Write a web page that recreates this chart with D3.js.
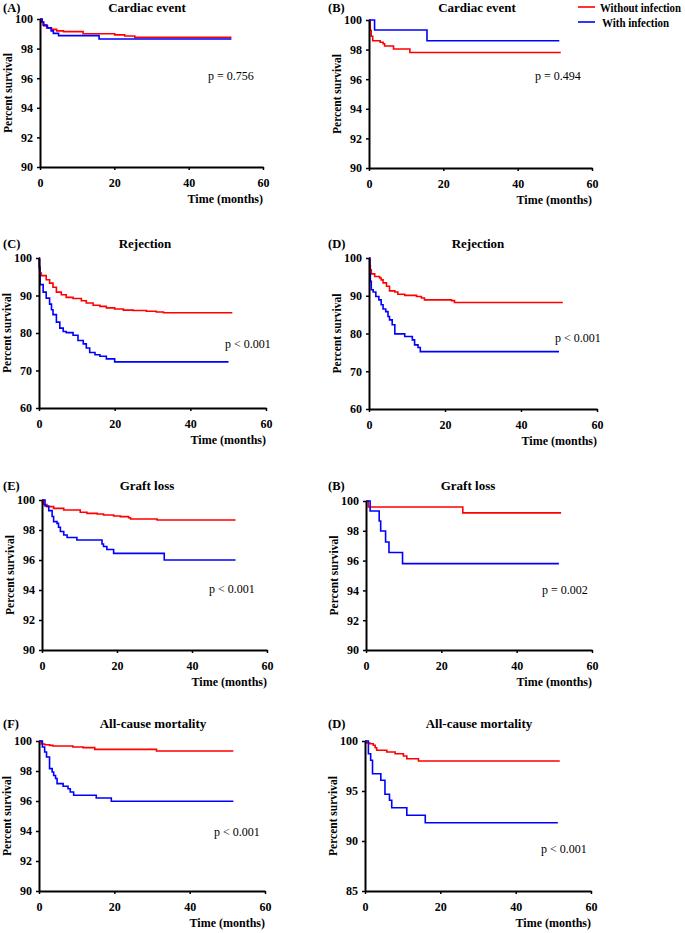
<!DOCTYPE html>
<html>
<head>
<meta charset="utf-8">
<script src="https://cdn.jsdelivr.net/npm/d3@7"></script>
<style>
  html, body { margin: 0; padding: 0; background: #fff; }
  svg { display: block; font-family: "Liberation Serif", "Times New Roman", serif; }
</style>
</head>
<body>
<svg id="chart" width="685" height="933"></svg>
<script>
// ---------- DATA (time in months, percent survival) ----------
const seriesNames = ["Without infection", "With infection"];
const xTicks = [0, 20, 40, 60];

// (A) Cardiac event
const cardiacA_without = [[0,100],[0.3,99.8],[0.8,99.6],[1.8,99.4],[3.1,99.3],[4.5,99.2],[6.3,99.15],[11.6,99.0],[20.1,98.93],[22.8,98.85],[25.5,98.76],[51.5,98.76]];
const cardiacA_with    = [[0,100],[0.6,99.8],[1.0,99.55],[2.0,99.4],[3.0,99.2],[3.6,99.03],[5.0,98.88],[15.9,98.65],[51.5,98.65]];
// (B) Cardiac event
const cardiacB_without = [[0,100],[0.3,99.3],[0.6,98.9],[1.0,98.6],[3.0,98.5],[3.8,98.4],[4.2,98.24],[6.6,98.04],[11.0,97.8],[51.6,97.8]];
const cardiacB_with    = [[0,100],[1.5,99.32],[15.6,98.6],[51.2,98.6]];
// (C) Rejection
const rejectC_without = [[0,100],[0.1,97.5],[0.3,96],[0.6,95.3],[1.9,94.2],[2.8,93.3],[3.7,92.2],[4.6,90.9],[5.9,90.2],[7.2,89.5],[9.0,89.2],[11.2,88.6],[12.5,88.0],[14.3,87.4],[16.1,87.1],[17.8,86.7],[20.0,86.4],[22.3,86.1],[24.9,86.0],[28.4,85.8],[31.0,85.6],[32.9,85.4],[51.1,85.4]];
const rejectC_with    = [[0,100],[0.1,97.5],[0.2,95.6],[0.3,92.9],[1.1,90.9],[1.9,89.3],[2.8,87.7],[3.3,86.2],[3.7,84.9],[4.6,82.9],[5.5,81.3],[6.4,80.4],[7.2,80.1],[9.0,79.4],[10.3,78.0],[11.7,77.1],[12.5,76.0],[13.4,74.8],[14.8,74.2],[16.1,73.8],[17.8,73.1],[20.0,72.3],[50.1,72.3]];
// (D) Rejection
const rejectD_without = [[0,100],[0.2,98],[0.35,96.9],[0.6,95.8],[1.5,95.1],[2.8,94.7],[3.2,94.2],[3.7,93.4],[4.6,92.5],[5.4,91.3],[6.8,91.0],[7.6,90.4],[9.4,90.1],[12.5,89.8],[13.8,89.4],[14.6,88.9],[21.7,88.7],[22.5,88.2],[51.0,88.2]];
const rejectD_with    = [[0,100],[0.2,96],[0.35,93.8],[0.6,91.6],[1.1,91.0],[1.8,89.8],[2.6,88.9],[3.2,87.6],[3.7,86.5],[4.4,85.8],[5.0,84.5],[5.4,83.6],[6.1,82.3],[6.8,79.9],[9.4,79.2],[11.4,78.3],[12.0,77.0],[12.9,76.3],[13.5,75.2],[50.0,75.2]];
// (E) Graft loss
const graftE_without = [[0,100],[0.4,99.7],[1.3,99.56],[3.1,99.44],[5.8,99.33],[10.2,99.18],[12.0,99.11],[14.7,99.07],[16.4,99.0],[19.1,98.93],[20.9,98.89],[23.1,98.82],[23.6,98.73],[30.7,98.67],[51.6,98.67]];
const graftE_with    = [[0,100],[0.8,99.6],[1.8,99.29],[2.7,98.9],[3.1,98.56],[4.0,98.44],[4.4,98.18],[4.9,97.9],[5.8,97.67],[6.7,97.5],[9.3,97.33],[16.0,97.07],[16.4,96.9],[17.3,96.7],[19.1,96.44],[32.6,96.0],[51.6,96.0]];
// (B) Graft loss
const graftB_without = [[0,100],[0.6,99.6],[25.7,99.2],[51.8,99.2]];
const graftB_with    = [[0,100],[1.1,99.33],[3.5,98.66],[3.9,97.99],[5.2,97.25],[6.1,96.54],[9.7,95.8],[51.2,95.8]];
// (F) All-cause mortality
const mortF_without = [[0,100],[0.6,99.8],[1.5,99.75],[2.8,99.71],[3.7,99.67],[9.0,99.6],[11.7,99.56],[14.8,99.44],[31.2,99.33],[51.6,99.33]];
const mortF_with    = [[0,100],[0.9,99.6],[1.5,99.27],[2.0,98.93],[2.8,98.16],[3.5,97.93],[3.9,97.7],[4.4,97.5],[4.8,97.16],[6.4,96.98],[7.7,96.82],[8.3,96.6],[9.2,96.38],[15.2,96.2],[19.2,95.98],[51.6,95.98]];
// (D) All-cause mortality
const mortD_without = [[0,100],[0.4,99.8],[1.3,99.73],[2.2,99.57],[2.7,99.33],[3.1,99.07],[5.8,98.9],[8.0,98.73],[10.2,98.5],[11.1,98.23],[14.2,98.0],[51.7,98.0]];
const mortD_with    = [[0,100],[0.9,98.73],[1.5,98.07],[2.0,96.73],[4.2,96.07],[5.3,94.67],[6.5,94.07],[7.1,93.33],[11.1,92.57],[16.0,91.83],[51.2,91.83]];

const yTicksFine = [90, 92, 94, 96, 98, 100];
const yTicksRej = [60, 70, 80, 90, 100];
const yTicksMort = [85, 90, 95, 100];

// ---------- LAYOUT ----------
const colors = ["#ff0000", "#0000ff"];
const panels = [
  {tag:"(A)", title:"Cardiac event", p:"p = 0.756", data:[cardiacA_without, cardiacA_with], yDom:[90,100], yT:yTicksFine,
   x0:40, x1:263, yTop:19, yBot:167, tagX:3, tagY:12, titleX:147, titleY:12, pX:208, pY:80},
  {tag:"(B)", title:"Cardiac event", p:"p = 0.494", data:[cardiacB_without, cardiacB_with], yDom:[90,100], yT:yTicksFine,
   x0:369, x1:592, yTop:20, yBot:168, tagX:328, tagY:12, titleX:477, titleY:12, pX:535, pY:80},
  {tag:"(C)", title:"Rejection", p:"p < 0.001", data:[rejectC_without, rejectC_with], yDom:[60,100], yT:yTicksRej,
   x0:39, x1:266, yTop:258, yBot:408, tagX:3, tagY:248, titleX:145, titleY:248, pX:225, pY:348},
  {tag:"(D)", title:"Rejection", p:"p < 0.001", data:[rejectD_without, rejectD_with], yDom:[60,100], yT:yTicksRej,
   x0:369, x1:597, yTop:258, yBot:409, tagX:328, tagY:248, titleX:478, titleY:248, pX:555, pY:342},
  {tag:"(E)", title:"Graft loss", p:"p < 0.001", data:[graftE_without, graftE_with], yDom:[90,100], yT:yTicksFine,
   x0:42, x1:267, yTop:500, yBot:650, tagX:3, tagY:490, titleX:147, titleY:490, pX:209, pY:593},
  {tag:"(B)", title:"Graft loss", p:"p = 0.002", data:[graftB_without, graftB_with], yDom:[90,100], yT:yTicksFine,
   x0:366, x1:592, yTop:501, yBot:650, tagX:328, tagY:490, titleX:468, titleY:490, pX:542, pY:594},
  {tag:"(F)", title:"All-cause mortality", p:"p < 0.001", data:[mortF_without, mortF_with], yDom:[90,100], yT:yTicksFine,
   x0:39, x1:265, yTop:741, yBot:891, tagX:3, tagY:728, titleX:153, titleY:728, pX:214, pY:836},
  {tag:"(D)", title:"All-cause mortality", p:"p < 0.001", data:[mortD_without, mortD_with], yDom:[85,100], yT:yTicksMort,
   x0:365, x1:591, yTop:741, yBot:891, tagX:328, tagY:728, titleX:479, titleY:728, pX:541, pY:853}
];

const svg = d3.select("#chart");

panels.forEach(pn => {
  const g = svg.append("g");
  const x = d3.scaleLinear().domain([0, 60]).range([pn.x0, pn.x1]);
  const y = d3.scaleLinear().domain(pn.yDom).range([pn.yBot, pn.yTop]);

  // curves
  const line = d3.line().x(d => x(d[0])).y(d => y(d[1])).curve(d3.curveStepAfter);
  pn.data.forEach((ser, i) => {
    g.append("path").datum(ser).attr("d", line)
      .attr("fill", "none").attr("stroke", colors[i]).attr("stroke-width", 1.6);
  });

  // axes
  const xAxis = d3.axisBottom(x).tickValues(xTicks).tickSize(3).tickSizeOuter(0).tickPadding(8);
  const yAxis = d3.axisLeft(y).tickValues(pn.yT).tickSize(3).tickSizeOuter(0).tickPadding(4);
  const gx = g.append("g").attr("transform", `translate(0,${pn.yBot})`).call(xAxis);
  const gy = g.append("g").attr("transform", `translate(${pn.x0},0)`).call(yAxis);
  [gx, gy].forEach(a => {
    a.select(".domain").attr("stroke", "#000").attr("stroke-width", 2);
    a.selectAll(".tick line").attr("stroke", "#000").attr("stroke-width", 1.5);
    a.selectAll(".tick text").attr("fill", "#000")
      .style("font-family", "'Liberation Serif', 'Times New Roman', serif")
      .style("font-weight", "bold").style("font-size", "12px");
  });

  // texts
  g.append("text").attr("x", pn.tagX).attr("y", pn.tagY).text(pn.tag)
    .style("font-weight", "bold").style("font-size", "12.5px");
  g.append("text").attr("x", pn.titleX).attr("y", pn.titleY).attr("text-anchor", "middle").text(pn.title)
    .style("font-weight", "bold").style("font-size", "13px");
  g.append("text").attr("x", pn.x1).attr("y", pn.yBot + 36).attr("text-anchor", "end").text("Time (months)")
    .style("font-weight", "bold").style("font-size", "12px");
  g.append("text").attr("transform", `translate(${pn.x0 - 28},${(pn.yTop + pn.yBot) / 2}) rotate(-90)`)
    .attr("text-anchor", "middle").text("Percent survival")
    .style("font-weight", "bold").style("font-size", "11.5px");
  g.append("text").attr("x", pn.pX).attr("y", pn.pY).text(pn.p).style("font-size", "12px");
});

// legend
const legend = svg.append("g");
const legendWidths = [81, 67];
seriesNames.forEach((name, i) => {
  const ly = 7 + i * 15;
  legend.append("line").attr("x1", 578).attr("x2", 595).attr("y1", ly).attr("y2", ly)
    .attr("stroke", colors[i]).attr("stroke-width", 1.6);
  legend.append("text").attr("x", i === 0 ? 600 : 602).attr("y", ly + 5).text(name)
    .attr("textLength", legendWidths[i]).attr("lengthAdjust", "spacingAndGlyphs")
    .style("font-weight", "bold").style("font-size", "11.5px");
});
</script>
</body>
</html>
